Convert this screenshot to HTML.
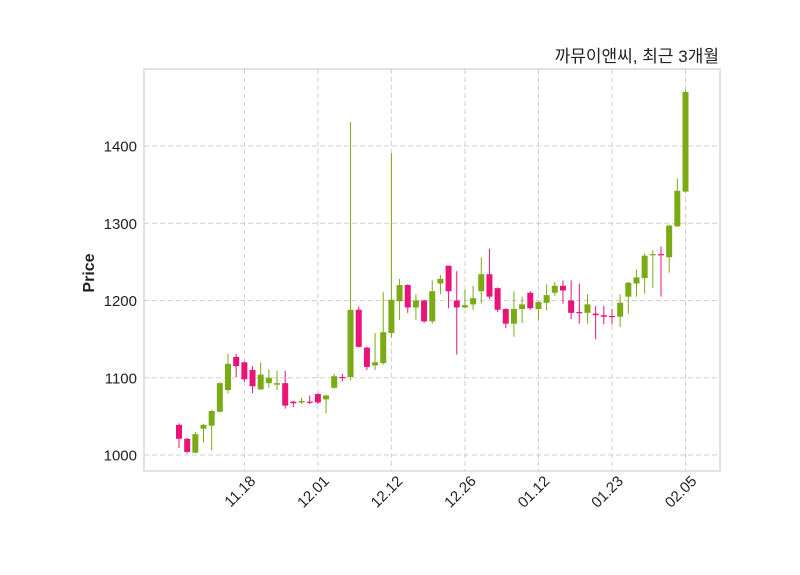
<!DOCTYPE html>
<html><head><meta charset="utf-8"><style>
html,body{margin:0;padding:0;background:#fff;}
svg{display:block;font-family:"Liberation Sans","Noto Sans CJK KR",sans-serif;}
</style></head><body>
<svg id="chart" width="800" height="575" viewBox="0 0 800 575">
<text x="719" y="62" text-anchor="end" font-size="17" fill="#222">까뮤이앤씨, 최근 3개월</text>
<rect x="144" y="69" width="576" height="402" fill="#fff" stroke="#d9d9d9" stroke-width="1.5"/>
<g id="grid"></g>
<g id="candles"></g>
<g id="axes"></g>
<text transform="translate(94,273) rotate(-90)" text-anchor="middle" font-size="16" font-weight="bold" fill="#222">Price</text>
</svg>
<script>
const opens  = [1039,1021,1003,1034,1038,1056,1084,1127,1120,1110,1085,1093,1091,1093,1069,1068,1069,1079,1072,1087,1101,1101,1188,1139,1116,1119,1158,1199,1220,1191,1200,1173,1222,1245,1200,1191,1195,1212,1234,1216,1189,1170,1189,1210,1189,1197,1210,1219,1200,1185,1184,1183,1181,1180,1179,1205,1222,1229,1259,1260,1256,1296,1341];
const closes = [1021,1004,1027,1039,1057,1093,1118,1115,1098,1089,1104,1100,1093,1064,1067,1070,1068,1068,1077,1102,1100,1188,1140,1114,1120,1159,1201,1220,1191,1200,1173,1212,1228,1212,1191,1194,1203,1234,1205,1188,1170,1189,1195,1190,1198,1207,1219,1213,1184,1184,1195,1181,1179,1179,1197,1223,1230,1258,1260,1259,1297,1342,1470];
const highs  = [1041,1022,1030,1040,1058,1094,1131,1131,1121,1115,1120,1111,1109,1109,1070,1074,1077,1080,1078,1105,1105,1431,1192,1140,1158,1211,1391,1228,1221,1208,1201,1226,1233,1245,1238,1214,1219,1256,1267,1217,1190,1212,1205,1212,1199,1221,1224,1226,1226,1222,1208,1193,1193,1189,1208,1224,1240,1261,1265,1270,1298,1358,1473];
const lows   = [1009,1002,1002,1016,1006,1055,1080,1101,1095,1080,1084,1087,1084,1060,1062,1066,1066,1066,1054,1086,1095,1097,1139,1110,1110,1117,1152,1175,1184,1175,1171,1170,1208,1190,1130,1190,1188,1196,1202,1185,1164,1153,1171,1188,1175,1187,1206,1196,1176,1170,1170,1150,1169,1169,1166,1183,1205,1209,1216,1205,1236,1295,1340];
const tickIdx = [8,17,26,35,44,53,62];
const tickLabels = ["11.18","12.01","12.12","12.26","01.12","01.23","02.05"];
const yTicks = [1000,1100,1200,1300,1400];

const NS="http://www.w3.org/2000/svg";
const X0=179, X1=685.5, N=opens.length;
const xs = i => X0 + i*(X1-X0)/(N-1);
const ys = p => 455 - (p-1000)*0.7725;
function mk(tag, attrs, parent){const e=document.createElementNS(NS,tag);for(const k in attrs)e.setAttribute(k,attrs[k]);parent.appendChild(e);return e;}
const grid=document.getElementById('grid'), cg=document.getElementById('candles'), ax=document.getElementById('axes');
yTicks.forEach(v=>{
  const y=ys(v);
  const l=mk('line',{x1:144,x2:720,y1:y,y2:y,stroke:'#cfcfcf','stroke-dasharray':'5,3','stroke-width':1},grid);
  
  
  const t=mk('text',{x:137,y:y+5.5,'text-anchor':'end','font-size':15,fill:'#222'},ax);
  t.textContent=v;
  
  
});
tickIdx.forEach((idx,k)=>{
  const x=xs(idx);
  const l=mk('line',{x1:x,x2:x,y1:69,y2:471,stroke:'#cfcfcf','stroke-dasharray':'5,3','stroke-width':1},grid);
  
  
  const t=mk('text',{x:x+12,y:482,'text-anchor':'end','font-size':15,fill:'#222',transform:`rotate(-45 ${x+12} 482)`},ax);
  t.textContent=tickLabels[k];
  
  
});
for(let i=0;i<N;i++){
  const up=closes[i]>=opens[i];
  const col=up?'#7aab14':'#ea1379';
  const x=xs(i);
  const w=mk('line',{x1:x,x2:x,y1:ys(highs[i]),y2:ys(lows[i]),stroke:col,'stroke-width':1},cg);
  
  
  const top=ys(Math.max(opens[i],closes[i])), bot=ys(Math.min(opens[i],closes[i]));
  const r=mk('rect',{x:x-3,y:top,width:6,height:Math.max(1.2,bot-top),fill:col},cg);
  
  
}
</script>
</body></html>
